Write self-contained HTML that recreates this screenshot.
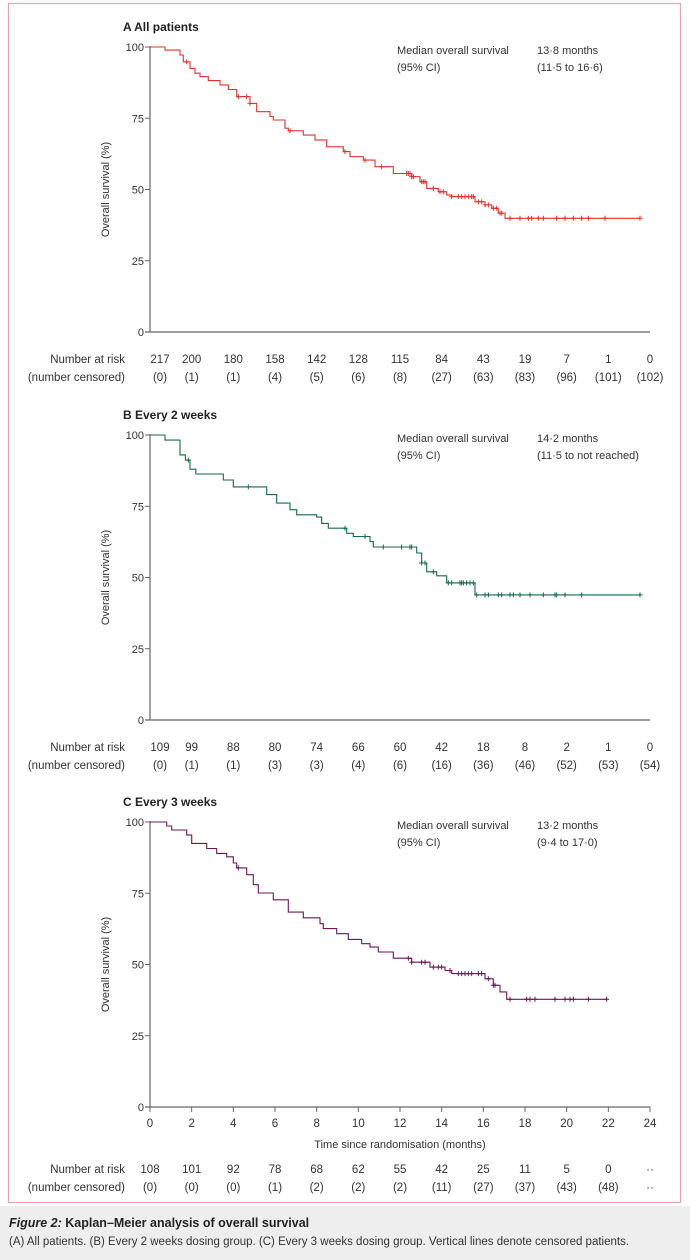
<!DOCTYPE html>
<html><head><meta charset="utf-8">
<style>
html,body{margin:0;padding:0;background:#fff;width:690px;height:1260px;overflow:hidden}
svg{display:block;font-family:"Liberation Sans",sans-serif}
</style></head>
<body>
<svg id="fig" width="690" height="1260">
<rect x="0" y="1206" width="690" height="54" fill="#eeeeee"/>
<rect x="8.5" y="3.5" width="672" height="1199" fill="none" stroke="#e0a6b6" stroke-width="1.2"/>
<text x="9" y="1227" font-size="12.5" font-weight="bold" fill="#222"><tspan font-style="italic">Figure 2:</tspan> Kaplan–Meier analysis of overall survival</text>
<text x="9" y="1245" font-size="11.5" fill="#333">(A) All patients. (B) Every 2 weeks dosing group. (C) Every 3 weeks dosing group. Vertical lines denote censored patients.</text>
</svg>
<script>
// ---- data ----
const timeTicks = [0,2,4,6,8,10,12,14,16,18,20,22,24];
const survTicks = [0,25,50,75,100];
// Panel A
const stepTimesA = [0.72,1.44,1.6,1.92,2.16,2.4,2.8,3.36,3.76,4.16,4.8,5.12,5.76,5.92,6.48,6.64,7.36,7.92,8.48,9.28,9.6,10.24,10.8,11.68,12.56,12.96,13.28,13.84,14.24,14.48,15.6,16.08,16.4,16.72,17.04];
const stepSurvA = [98.9,97.2,94.8,92.5,90.8,89.6,88.2,86.7,85.1,82.6,80.2,77.3,75.6,74.4,71.5,70.6,69.1,67.4,65,63.3,61.5,60.3,58,55.6,54.5,52.7,50.4,49.2,48.1,47.5,45.7,44.6,43.4,41.7,39.9];
const censorA = [1.76,4.24,4.64,4.8,6.72,9.36,10.32,11.12,12.32,12.4,12.48,12.56,12.64,13.04,13.12,13.2,13.6,13.92,14.08,14.48,14.8,14.96,15.12,15.28,15.44,15.52,15.76,15.92,16.08,16.24,16.48,16.64,16.8,16.88,17.28,17.76,18.16,18.32,18.64,18.88,19.52,19.92,20.32,20.72,21.04,21.84,23.52];
const endA = 23.52;
const atRiskA = ["217","200","180","158","142","128","115","84","43","19","7","1","0"];
const censoredA = ["(0)","(1)","(1)","(4)","(5)","(6)","(8)","(27)","(63)","(83)","(96)","(101)","(102)"];
// Panel B
const stepTimesB = [0.72,1.44,1.7,1.92,2.2,3.52,4.0,5.6,6.08,6.72,7.04,8.0,8.24,8.56,9.44,9.76,10.56,10.72,12.8,13.04,13.28,13.76,14.24,15.6];
const stepSurvB = [98.2,93,91.2,88,86.3,84.2,81.8,79.1,76.1,73.8,72,71.2,69,67.3,65.5,64.4,62.6,60.7,58.6,55.1,52,50.6,48.1,43.9];
const censorB = [1.84,4.72,9.36,10.32,11.2,12.08,12.48,12.56,13.04,13.2,13.6,14.32,14.48,14.88,14.96,15.04,15.2,15.36,15.52,15.68,16.08,16.24,16.72,16.88,17.28,17.44,17.76,18.24,18.88,19.44,19.52,19.92,20.72,23.52];
const endB = 23.52;
const atRiskB = ["109","99","88","80","74","66","60","42","18","8","2","1","0"];
const censoredB = ["(0)","(1)","(1)","(3)","(3)","(4)","(6)","(16)","(36)","(46)","(52)","(53)","(54)"];
// Panel C
const stepTimesC = [0.8,1.04,1.76,2.0,2.72,3.2,3.68,4.0,4.16,4.64,4.96,5.2,5.92,6.64,7.36,8.16,8.32,8.96,9.52,10.16,10.56,10.96,11.68,12.56,13.44,14.16,14.48,16.08,16.48,16.8,17.12];
const stepSurvC = [98.6,97.2,95.4,92.5,90.7,89,87.8,85.6,83.9,81.5,78,75.1,72.7,68.4,66.4,64.3,62.6,60.8,58.8,57.3,56.1,54.4,52.2,50.8,49.1,47.9,46.8,45,42.7,40.4,37.8];
const censorC = [4.24,12.4,12.56,13.04,13.2,13.6,13.84,14.0,14.4,14.8,14.96,15.12,15.28,15.44,15.76,15.92,16.24,16.48,16.56,17.28,18.08,18.24,18.48,19.44,19.92,20.16,20.32,21.04,21.92];
const endC = 21.92;
const atRiskC = ["108","101","92","78","68","62","55","42","25","11","5","0","··"];
const censoredC = ["(0)","(0)","(0)","(1)","(2)","(2)","(2)","(11)","(27)","(37)","(43)","(48)","··"];

const NS = "http://www.w3.org/2000/svg";
const svg = document.getElementById('fig');
const X0 = 150, X1 = 650, TMAX = 24;
const xs = t => X0 + (t / TMAX) * (X1 - X0);
function mk(tag, attrs, parent) {
  const e = document.createElementNS(NS, tag);
  for (const k in attrs) e.setAttribute(k, attrs[k]);
  (parent || svg).appendChild(e);
  return e;
}
function txt(x, y, s, size, anchor, parent, extra) {
  const e = mk('text', Object.assign({x: x, y: y, 'font-size': size, 'text-anchor': anchor, fill: '#333'}, extra || {}), parent);
  e.textContent = s;
  return e;
}
function survAt(t, times, survs) {
  let s = 100;
  for (let i = 0; i < times.length; i++) if (times[i] <= t) s = survs[i];
  return s;
}
function panel(o) {
  const yTop = o.yTop, yBot = o.yBot;
  const ys = v => yBot - (v / 100) * (yBot - yTop);
  const g = mk('g', {});
  
  
  const title = txt(123, yTop - 16, o.letter + '  ', 12, 'start', g, {'font-weight': 'bold', fill: '#222'});
  title.textContent = o.letter + '  ' + o.title;
  
  
  // axes
  const ya = mk('line', {x1: X0, y1: yTop - 1, x2: X0, y2: yBot, stroke: '#666', 'stroke-width': 1.2}, g);
  
  
  const xa = mk('line', {x1: X0 - 5, y1: yBot, x2: X1, y2: yBot, stroke: '#666', 'stroke-width': 1.2}, g);
  
  
  survTicks.forEach(v => {
    const tk = mk('line', {x1: X0 - 5, y1: ys(v), x2: X0, y2: ys(v), stroke: '#666'}, g);
    
    
    const tl = txt(X0 - 6, ys(v) + 4, String(v), 11, 'end', g);
    
    
  });
  const yt = txt(0, 0, 'Overall survival (%)', 11, 'middle', g, {transform: 'translate(109,' + ((yTop + yBot) / 2) + ') rotate(-90)'});
  
  
  if (o.xTicks) {
    timeTicks.forEach(t => {
      const tk = mk('line', {x1: xs(t), y1: yBot, x2: xs(t), y2: yBot + 5, stroke: '#666'}, g);
      
      
      const tl = txt(xs(t), yBot + 20, String(t), 11.5, 'middle', g);
      
      
    });
    const xt = txt(400, yBot + 41, 'Time since randomisation (months)', 11, 'middle', g);
    
    
  }
  // legend
  const l1 = txt(397, yTop + 7, 'Median overall survival', 11, 'start', g);
  
  
  const l2 = txt(397, yTop + 24, '(95% CI)', 11, 'start', g);
  
  
  const l3 = txt(537, yTop + 7, o.median, 11, 'start', g);
  
  
  const l4 = txt(537, yTop + 24, o.ci, 11, 'start', g);
  
  
  // curve
  let d = 'M' + xs(0) + ',' + ys(100);
  let prev = 100;
  for (let i = 0; i < o.times.length; i++) {
    d += ' H' + xs(o.times[i]).toFixed(1) + ' V' + ys(o.survs[i]).toFixed(1);
    prev = o.survs[i];
  }
  d += ' H' + xs(o.end).toFixed(1);
  const c = mk('path', {d: d, fill: 'none', stroke: o.color, 'stroke-width': 1.1}, g);
  
  
  o.censor.forEach(t => {
    const s = survAt(t, o.times, o.survs);
    const m = mk('path', {d: 'M' + (xs(t) - 2.5) + ',' + ys(s) + ' h5 M' + xs(t) + ',' + (ys(s) - 2.5) + ' v5', stroke: o.color, 'stroke-width': 1}, g);
    
    
  });
  // risk table
  const r1 = txt(125, o.riskY, 'Number at risk', 11.5, 'end', g);
  
  
  const r2 = txt(125, o.riskY + 18, '(number censored)', 11.5, 'end', g);
  
  
  o.risk.forEach((v, i) => {
    const x = xs(timeTicks[i]) + (i === 0 ? o.firstShift : 0);
    const a = txt(x, o.riskY, v, 11.5, 'middle', g);
    
    
    const b = txt(x, o.riskY + 18, o.cens[i], 11.5, 'middle', g);
    
    
  });
}
panel({key: 'a', letter: 'A', title: 'All patients', yTop: 47, yBot: 332, color: '#e0322e',
  median: '13·8 months', ci: '(11·5 to 16·6)', times: stepTimesA, survs: stepSurvA, censor: censorA, end: endA,
  risk: atRiskA, cens: censoredA, riskY: 363, firstShift: 10, xTicks: false});
panel({key: 'b', letter: 'B', title: 'Every 2 weeks', yTop: 435, yBot: 720, color: '#126b45',
  median: '14·2 months', ci: '(11·5 to not reached)', times: stepTimesB, survs: stepSurvB, censor: censorB, end: endB,
  risk: atRiskB, cens: censoredB, riskY: 751, firstShift: 10, xTicks: false});
panel({key: 'c', letter: 'C', title: 'Every 3 weeks', yTop: 822, yBot: 1107, color: '#6b1658',
  median: '13·2 months', ci: '(9·4 to 17·0)', times: stepTimesC, survs: stepSurvC, censor: censorC, end: endC,
  risk: atRiskC, cens: censoredC, riskY: 1173, firstShift: 0, xTicks: true});
</script>
</body></html>
